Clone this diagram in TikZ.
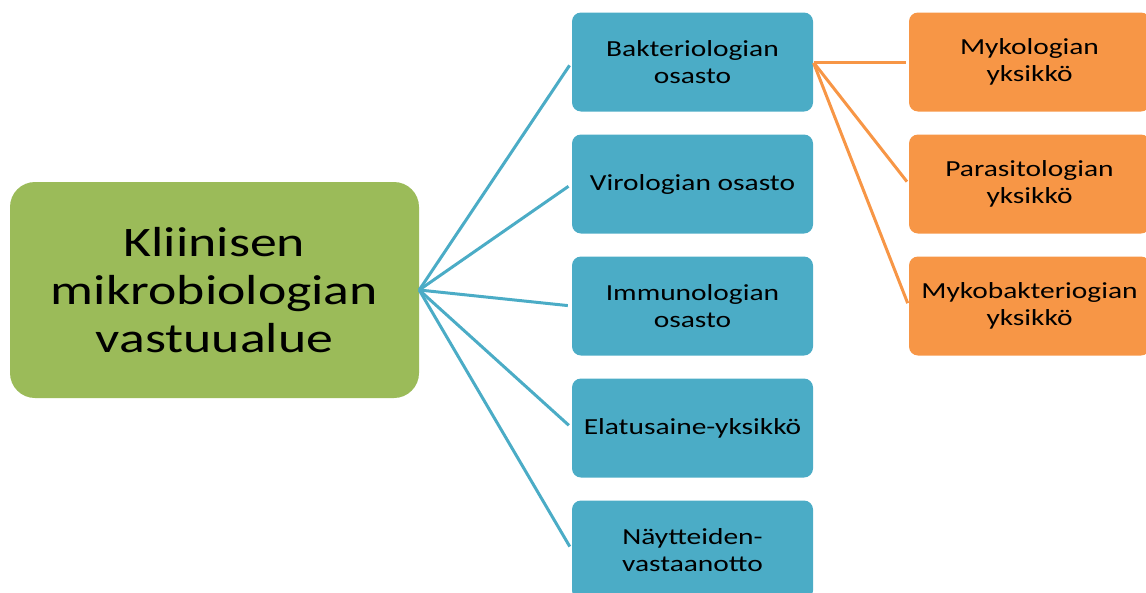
\documentclass[tikz,border=0pt]{standalone}
\usepackage{fontspec}
\setmainfont{Carlito}[FakeStretch=1.28]
\definecolor{grn}{HTML}{9BBB59}
\definecolor{blu}{HTML}{4BACC6}
\definecolor{org}{HTML}{F79646}
\tikzset{
  mainbox/.style={fill=grn, rounded corners=25pt, minimum width=409pt, minimum height=216pt, align=center, font=\fontsize{42}{48}\selectfont, inner sep=0pt},
  dept/.style={fill=blu, rounded corners=9pt, minimum width=241pt, minimum height=99pt, align=center, font=\fontsize{23}{27}\selectfont, inner sep=0pt},
  unit/.style={fill=org, rounded corners=9pt, minimum width=241pt, minimum height=99pt, align=center, font=\fontsize{23}{27}\selectfont, inner sep=0pt},
  bline/.style={draw=blu, line width=3pt, shorten >=4pt},
  oline/.style={draw=org, line width=3pt, shorten >=3pt, shorten <=1pt}
}
\begin{document}
\begin{tikzpicture}[x=1pt,y=-1pt]
\useasboundingbox (0,0) rectangle (1146,592);
\clip (0,0) rectangle (1146,592);
\node[mainbox] (m) at (214.5,290) {Kliinisen\\mikrobiologian\\vastuualue};
\node[dept] (b1) at (692.5,62) {Bakteriologian\\osasto};
\node[dept] (b2) at (692.5,184) {Virologian osasto};
\node[dept] (b3) at (692.5,306) {Immunologian\\osasto};
\node[dept] (b4) at (692.5,428) {Elatusaine-yksikkö};
\node[dept] (b5) at (692.5,550) {Näytteiden-\\vastaanotto};
\node[unit] (o1) at (1029.5,62) {Mykologian\\yksikkö};
\node[unit] (o2) at (1029.5,184) {Parasitologian\\yksikkö};
\node[unit] (o3) at (1029.5,306) {Mykobakteriogian\\yksikkö};
\foreach \b in {b1,b2,b3,b4,b5} \draw[bline] (m.east) -- (\b.west);
\foreach \o in {o1,o2,o3} \draw[oline] (b1.east) -- (\o.west);
\end{tikzpicture}
\end{document}
